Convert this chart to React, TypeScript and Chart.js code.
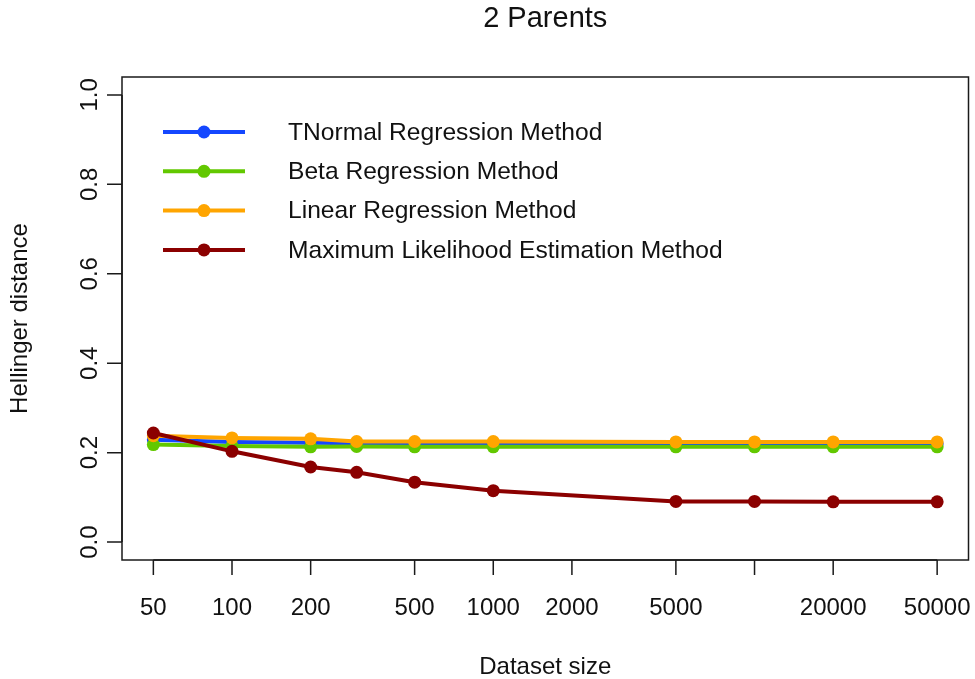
import React, { useEffect, useRef } from "react";
import { Chart, registerables } from "chart.js";

Chart.register(...registerables);

// ---- Data ----
const datasetSizes = [50, 100, 200, 300, 500, 1000, 5000, 10000, 20000, 50000];
const tnormalValues = [0.229, 0.224, 0.222, 0.221, 0.221, 0.220, 0.220, 0.220, 0.220, 0.220];
const betaValues = [0.218, 0.215, 0.213, 0.214, 0.213, 0.213, 0.213, 0.213, 0.213, 0.213];
const linearValues = [0.238, 0.233, 0.231, 0.225, 0.225, 0.225, 0.224, 0.224, 0.224, 0.224];
const mleValues = [0.244, 0.203, 0.168, 0.156, 0.134, 0.115, 0.091, 0.091, 0.090, 0.090];

const seriesNames = [
  "TNormal Regression Method",
  "Beta Regression Method",
  "Linear Regression Method",
  "Maximum Likelihood Estimation Method",
];
const seriesColors = ["#1447FF", "#62C800", "#FFA500", "#8B0000"];

const xTicks = [50, 100, 200, 500, 1000, 2000, 5000, 10000, 20000, 50000];
const xTickLabels = ["50", "100", "200", "500", "1000", "2000", "5000", "", "20000", "50000"];
const yTicks = [0, 0.2, 0.4, 0.6, 0.8, 1.0];
const yTickLabels = ["0.0", "0.2", "0.4", "0.6", "0.8", "1.0"];

const titleText = "2 Parents";
const xTitle = "Dataset size";
const yTitle = "Hellinger distance";

const FONT = '"Liberation Sans", Arial, Helvetica, sans-serif';

const rAxesPlugin = {
  id: "rAxes",
  afterDraw(chart: any) {
    const { ctx, chartArea: ca, scales } = chart;
    const xs = scales.x;
    const ys = scales.y;
    ctx.save();
    ctx.strokeStyle = "#1a1a1a";
    ctx.lineWidth = 1.5;
    ctx.strokeRect(ca.left, ca.top, ca.right - ca.left, ca.bottom - ca.top);

    // x axis
    const xp = xTicks.map((v) => xs.getPixelForValue(v));
    ctx.beginPath();
    ctx.moveTo(xp[0], ca.bottom);
    ctx.lineTo(xp[xp.length - 1], ca.bottom);
    xp.forEach((p) => {
      ctx.moveTo(p, ca.bottom);
      ctx.lineTo(p, ca.bottom + 15);
    });
    ctx.stroke();
    ctx.fillStyle = "#111";
    ctx.font = `24px ${FONT}`;
    ctx.textAlign = "center";
    ctx.textBaseline = "alphabetic";
    xTickLabels.forEach((l, i) => ctx.fillText(l, xp[i], 615));

    // y axis
    const yp = yTicks.map((v) => ys.getPixelForValue(v));
    ctx.beginPath();
    ctx.moveTo(ca.left, yp[0]);
    ctx.lineTo(ca.left, yp[yp.length - 1]);
    yp.forEach((p) => {
      ctx.moveTo(ca.left, p);
      ctx.lineTo(ca.left - 15, p);
    });
    ctx.stroke();
    yTickLabels.forEach((l, i) => {
      ctx.save();
      ctx.translate(97, yp[i]);
      ctx.rotate(-Math.PI / 2);
      ctx.fillText(l, 0, 0);
      ctx.restore();
    });

    const cx = (ca.left + ca.right) / 2;
    const cy = (ca.top + ca.bottom) / 2;
    // titles
    ctx.font = `29px ${FONT}`;
    ctx.fillText(titleText, cx, 27);
    ctx.font = `24px ${FONT}`;
    ctx.fillText(xTitle, cx, 674);
    ctx.save();
    ctx.translate(27, cy);
    ctx.rotate(-Math.PI / 2);
    ctx.fillText(yTitle, 0, 0);
    ctx.restore();

    // legend
    ctx.font = `24.6px ${FONT}`;
    ctx.textAlign = "left";
    ctx.textBaseline = "middle";
    seriesNames.forEach((name, i) => {
      const ly = 132 + i * 39.3;
      ctx.strokeStyle = seriesColors[i];
      ctx.lineWidth = 4;
      ctx.beginPath();
      ctx.moveTo(163, ly);
      ctx.lineTo(245, ly);
      ctx.stroke();
      ctx.fillStyle = seriesColors[i];
      ctx.beginPath();
      ctx.arc(204, ly, 6.5, 0, Math.PI * 2);
      ctx.fill();
      ctx.fillStyle = "#111";
      ctx.fillText(name, 288, ly + 1);
    });
    ctx.restore();
  },
};

export default function App() {
  const canvasRef = useRef<HTMLCanvasElement | null>(null);

  useEffect(() => {
    if (!canvasRef.current) return;
    const allValues = [tnormalValues, betaValues, linearValues, mleValues];
    const orders = [3, 2, 1, 0];
    const pad = Math.pow(10, 0.12);
    const chart = new Chart(canvasRef.current, {
      type: "line",
      data: {
        datasets: allValues.map((vals, i) => ({
          label: seriesNames[i],
          data: datasetSizes.map((s, j) => ({ x: s, y: vals[j] })),
          borderColor: seriesColors[i],
          backgroundColor: seriesColors[i],
          pointBackgroundColor: seriesColors[i],
          pointBorderWidth: 0,
          pointRadius: 6.5,
          borderWidth: 4,
          tension: 0,
          order: orders[i],
        })),
      },
      options: {
        animation: false,
        responsive: false,
        devicePixelRatio: 1,
        layout: { padding: { left: 122, right: 5, top: 77, bottom: 119 } },
        plugins: { legend: { display: false }, tooltip: { enabled: false }, title: { display: false } },
        scales: {
          x: { type: "logarithmic", display: false, min: 50 / pad, max: 50000 * pad },
          y: { type: "linear", display: false, min: -0.04, max: 1.04 },
        },
      },
      plugins: [rAxesPlugin],
    });
    return () => chart.destroy();
  }, []);

  return (
    <div style={{ position: "fixed", left: 0, top: 0, width: 975, height: 679, background: "#fff" }}>
      <canvas ref={canvasRef} width={975} height={679} style={{ display: "block" }} />
    </div>
  );
}
